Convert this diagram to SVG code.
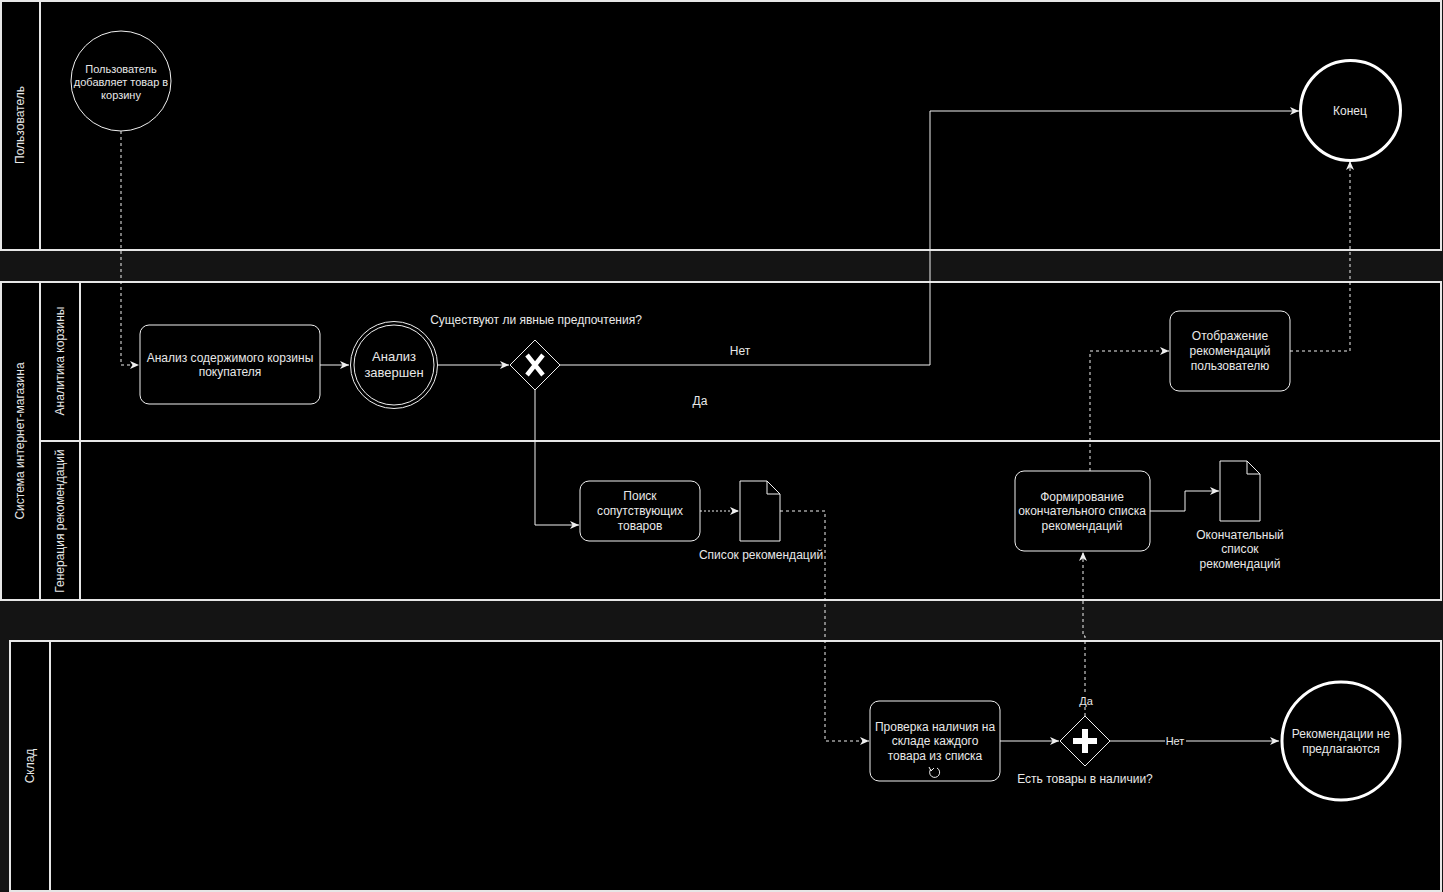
<svg xmlns="http://www.w3.org/2000/svg" width="1443" height="892" viewBox="0 0 1443 892">
<defs>
<style>
.pool{fill:#000;stroke:#e6e6e6;stroke-width:2}
.hdr{fill:none;stroke:#e6e6e6;stroke-width:2}
.task{fill:#000;stroke:#f0f0f0;stroke-width:1}
.t{font-family:"Liberation Sans",Arial,sans-serif;font-size:12px;fill:#e8e8e8;text-anchor:middle}
.s11{font-size:11px}
.s13{font-size:13px}
.ln{fill:none;stroke:#f0f0f0;stroke-width:1}
.dash{stroke-dasharray:3 3}
.dot{stroke-dasharray:2 2}
</style>
<marker id="arr" viewBox="0 0 10 10" refX="9" refY="5" markerWidth="10" markerHeight="10" markerUnits="userSpaceOnUse" orient="auto">
<path d="M0,1 L9,5 L0,9 L2.5,5 Z" fill="#f0f0f0"/>
</marker>
</defs>
<rect x="0" y="0" width="1443" height="892" fill="#141414"/>

<g id="pool-user">
<rect class="pool" x="1" y="1" width="1440" height="249"/>
<line class="hdr" x1="40" y1="1" x2="40" y2="250"/>
<text class="t" transform="translate(24,125) rotate(-90)">Пользователь</text>
</g>

<g id="pool-system">
<rect class="pool" x="1" y="282" width="1440" height="318"/>
<line class="hdr" x1="40" y1="282" x2="40" y2="600"/>
<line class="hdr" x1="80" y1="282" x2="80" y2="600"/>
<line class="hdr" x1="40" y1="441" x2="1441" y2="441"/>
<text class="t" transform="translate(24,441) rotate(-90)">Система интернет-магазина</text>
<text class="t" transform="translate(64,361) rotate(-90)">Аналитика корзины</text>
<text class="t" transform="translate(64,521) rotate(-90)">Генерация рекомендаций</text>
</g>

<g id="pool-warehouse">
<rect class="pool" x="10" y="641" width="1431" height="250"/>
<line class="hdr" x1="50" y1="641" x2="50" y2="891"/>
<text class="t" transform="translate(34,766) rotate(-90)">Склад</text>
</g>

<g id="connectors">
<path class="ln dash" d="M121,131 V365 H139" marker-end="url(#arr)"/>
<path class="ln" d="M320,365 H349" marker-end="url(#arr)"/>
<path class="ln" d="M437,365 H509" marker-end="url(#arr)"/>
<path class="ln" d="M560,365 H930 V111 H1299" marker-end="url(#arr)"/>
<path class="ln" d="M535,390 V525 H579" marker-end="url(#arr)"/>
<path class="ln dot" d="M700,511 H739" marker-end="url(#arr)"/>
<path class="ln dash" d="M780,511 H825 V741 H869" marker-end="url(#arr)"/>
<path class="ln" d="M1000,741 H1059" marker-end="url(#arr)"/>
<path class="ln dash" d="M1085,716 V636 H1083 V552" marker-end="url(#arr)"/>
<path class="ln" d="M1110,741 H1279" marker-end="url(#arr)"/>
<path class="ln" d="M1150,511 H1185 V491 H1219" marker-end="url(#arr)"/>
<path class="ln dash" d="M1090,471 V351 H1169" marker-end="url(#arr)"/>
<path class="ln dash" d="M1290,351 H1350 V161" marker-end="url(#arr)"/>
<text class="t" x="740" y="355">Нет</text>
<text class="t" x="700" y="405">Да</text>
<rect x="1165" y="735" width="21" height="12" fill="#000"/>
<text class="t" x="1175" y="745" style="font-size:11px">Нет</text>
<rect x="1078" y="695" width="16" height="12" fill="#000"/>
<text class="t" x="1086" y="705" style="font-size:11px">Да</text>
</g>

<g id="start">
<circle cx="121" cy="81" r="50" fill="#000" stroke="#f0f0f0" stroke-width="1"/>
<text class="t s11" x="121" y="73">Пользователь</text>
<text class="t s11" x="121" y="86">добавляет товар в</text>
<text class="t s11" x="121" y="99">корзину</text>
</g>

<g id="task-analyze">
<rect class="task" x="140" y="325" width="180" height="79" rx="9"/>
<text class="t" x="230" y="362">Анализ содержимого корзины</text>
<text class="t" x="230" y="376">покупателя</text>
</g>

<g id="event-analyzed">
<circle cx="394" cy="365" r="43.5" fill="#000" stroke="#f0f0f0" stroke-width="1"/>
<circle cx="394" cy="365" r="40" fill="none" stroke="#f0f0f0" stroke-width="1"/>
<text class="t s13" x="394" y="361">Анализ</text>
<text class="t s13" x="394" y="377">завершен</text>
</g>

<g id="gateway-pref">
<path d="M535,340 L560,365 L535,390 L510,365 Z" fill="#000" stroke="#f0f0f0" stroke-width="1"/>
<path d="M527,355 L543,375 M543,355 L527,375" stroke="#fff" stroke-width="4.5" stroke-linecap="butt"/>
<text class="t" x="536" y="324">Существуют ли явные предпочтения?</text>
</g>

<g id="task-search">
<rect class="task" x="580" y="481" width="120" height="60" rx="9"/>
<text class="t" x="640" y="500">Поиск</text>
<text class="t" x="640" y="515">сопутствующих</text>
<text class="t" x="640" y="530">товаров</text>
</g>

<g id="doc-list">
<path d="M740,481 H767 L780,494 V541 H740 Z M767,481 V494 H780" fill="#000" stroke="#f0f0f0" stroke-width="1"/>
<text class="t" x="761" y="559">Список рекомендаций</text>
</g>

<g id="task-check">
<rect class="task" x="870" y="701" width="130" height="80" rx="9"/>
<text class="t" x="935" y="731">Проверка наличия на</text>
<text class="t" x="935" y="745">складе каждого</text>
<text class="t" x="935" y="760">товара из списка</text>
<path d="M931,769 A5,5 0 1 0 937,768" fill="none" stroke="#f0f0f0" stroke-width="1"/>
<path d="M929,767 L931,771 L934,768" fill="none" stroke="#f0f0f0" stroke-width="1"/>
</g>

<g id="gateway-stock">
<path d="M1085,716 L1110,741 L1085,766 L1060,741 Z" fill="#000" stroke="#f0f0f0" stroke-width="1"/>
<path d="M1073,741 H1097 M1085,729 V753" stroke="#fff" stroke-width="6"/>
<text class="t" x="1085" y="783">Есть товары в наличии?</text>
</g>

<g id="end-none">
<circle cx="1341" cy="741" r="59" fill="#000" stroke="#fff" stroke-width="3"/>
<text class="t" x="1341" y="738">Рекомендации не</text>
<text class="t" x="1341" y="753">предлагаются</text>
</g>

<g id="task-final">
<rect class="task" x="1015" y="471" width="135" height="80" rx="9"/>
<text class="t" x="1082" y="501">Формирование</text>
<text class="t" x="1082" y="515">окончательного списка</text>
<text class="t" x="1082" y="530">рекомендаций</text>
</g>

<g id="doc-final">
<path d="M1220,461 H1247 L1260,474 V521 H1220 Z M1247,461 V474 H1260" fill="#000" stroke="#f0f0f0" stroke-width="1"/>
<text class="t" x="1240" y="539">Окончательный</text>
<text class="t" x="1240" y="553">список</text>
<text class="t" x="1240" y="568">рекомендаций</text>
</g>

<g id="task-display">
<rect class="task" x="1170" y="311" width="120" height="80" rx="9"/>
<text class="t" x="1230" y="340">Отображение</text>
<text class="t" x="1230" y="355">рекомендаций</text>
<text class="t" x="1230" y="370">пользователю</text>
</g>

<g id="end">
<circle cx="1350.5" cy="110.5" r="50" fill="#000" stroke="#fff" stroke-width="3"/>
<text class="t" x="1350" y="115">Конец</text>
</g>
</svg>
